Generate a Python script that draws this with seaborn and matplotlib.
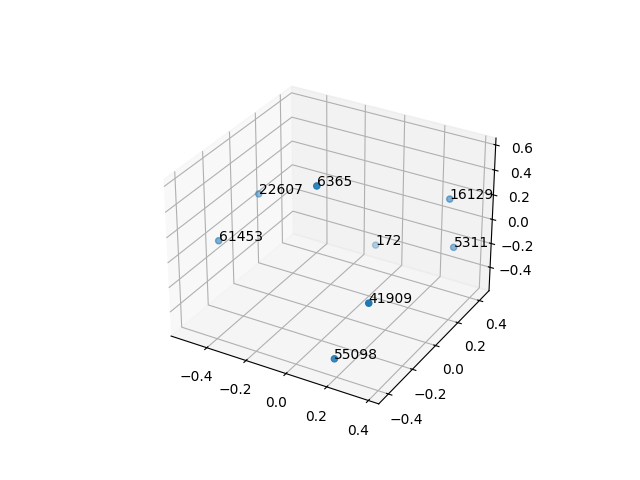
import matplotlib
matplotlib.use("Agg")
import matplotlib.pyplot as plt
import seaborn as sns

labels = ["55098", "41909", "6365", "16129", "61453", "5311", "22607", "172"]
xs = [0.191, 0.330, -0.034, 0.279, -0.550, 0.310, -0.517, -0.112]
ys = [-0.403, -0.364, -0.176, 0.410, -0.156, 0.403, 0.111, 0.446]
zs = [-0.450, 0.028, 0.602, 0.158, -0.084, -0.220, 0.092, -0.437]

color = sns.color_palette("tab10")[0]

fig = plt.figure(figsize=(6.4, 4.8))
ax = fig.add_subplot(projection="3d")
ax.scatter(xs, ys, zs, color=color)
for x, y, z, label in zip(xs, ys, zs, labels):
    ax.text(x, y, z, label)

ax.set_xlim(-0.586, 0.449)
ax.set_ylim(-0.478, 0.492)
ax.set_zlim(-0.599, 0.654)

plt.savefig("out.png", dpi=100)
